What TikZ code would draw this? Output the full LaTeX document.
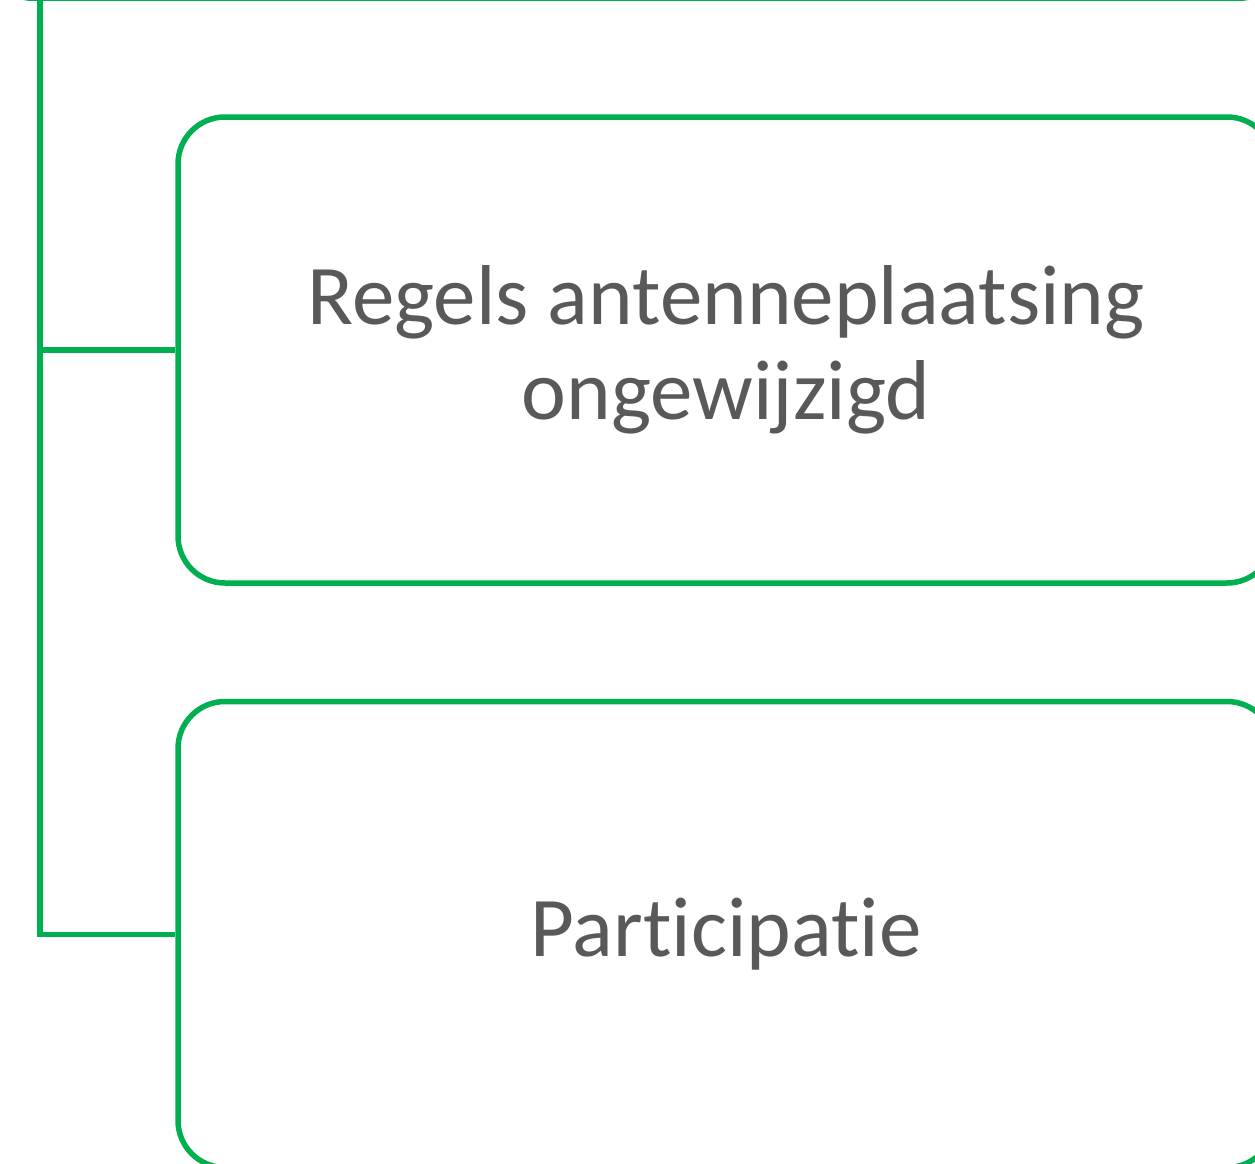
\documentclass[tikz,border=0pt]{standalone}
\usepackage{fontspec}
\setmainfont{Carlito}[Ligatures=NoCommon]
\usetikzlibrary{positioning}
\definecolor{boxgreen}{HTML}{00B050}
\definecolor{textgray}{HTML}{595959}

\begin{document}
\begin{tikzpicture}[node distance=117pt, auto]
    % Define block styles
    \tikzstyle{block} = [rectangle, draw=boxgreen, line width=5.5pt, text=textgray,
        minimum width=1096pt, minimum height=466pt, rounded corners=47pt,
        align=center, font=\fontsize{85}{95}\selectfont]
    \tikzstyle{line} = [draw=boxgreen, line width=5.5pt]

    \useasboundingbox (0,0) rectangle (1255pt,-1164pt);

    % Place nodes
    \node [block, minimum width=1300pt, anchor=south] (root) at (636pt,-1pt) {};
    \node [block] (rules) at (726pt,-350pt) {Regels antenneplaatsing\\ongewijzigd};
    \node [block, below=113pt of rules] (part) {Participatie};
    \coordinate (trunk) at (40pt,0);

    % Draw edges
    \path [line] (trunk) |- (rules.west);
    \path [line] (trunk) |- (part.west);
\end{tikzpicture}
\end{document}
